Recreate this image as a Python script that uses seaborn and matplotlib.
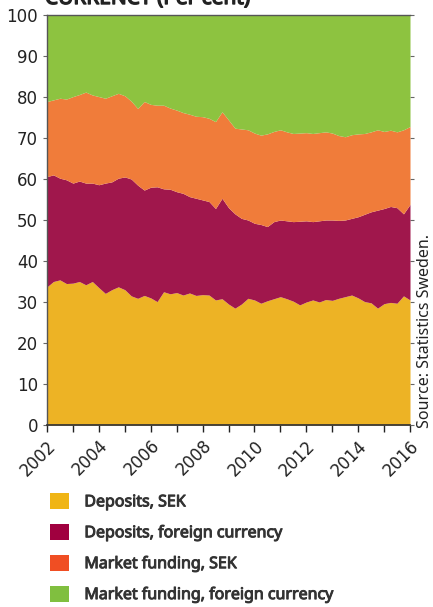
import numpy as np
import pandas as pd
import matplotlib
matplotlib.use("Agg")
import matplotlib.pyplot as plt
import matplotlib.dates as mdates
import matplotlib.patheffects as pe
from matplotlib.patches import Patch
from matplotlib.font_manager import FontProperties
import seaborn as sns

# ---- data (per cent, quarterly, cumulative boundaries of stacked areas) ----
quarters = pd.date_range("2002-01-01", "2016-01-01", freq="QS")

deposits_sek = [33.7, 35.0, 35.4, 34.5, 34.6, 35.0, 34.2, 35.0, 33.5, 32.1, 33.0, 33.7,
                33.0, 31.5, 30.9, 31.6, 31.0, 30.1, 32.5, 32.0, 32.3, 31.7, 32.2, 31.6,
                31.8, 31.7, 30.5, 30.8, 29.5, 28.5, 29.5, 30.9, 30.5, 29.7, 30.3, 30.8,
                31.3, 30.8, 30.2, 29.3, 30.0, 30.5, 30.0, 30.6, 30.4, 30.9, 31.3, 31.7,
                31.0, 30.1, 29.8, 28.5, 29.6, 29.9, 29.7, 31.5, 30.5]

cum_deposits_fx = [60.6, 61.0, 60.2, 59.8, 59.0, 59.5, 59.0, 59.0, 58.6, 59.0, 59.3, 60.2,
                   60.5, 60.0, 58.5, 57.3, 58.0, 58.1, 57.6, 57.5, 56.9, 56.5, 55.7, 55.3,
                   54.9, 54.5, 52.8, 55.3, 53.0, 51.5, 50.4, 50.0, 49.2, 48.9, 48.4, 49.6,
                   50.0, 49.8, 49.6, 49.7, 49.8, 49.6, 49.8, 50.0, 50.0, 49.9, 50.0, 50.4,
                   50.8, 51.4, 52.0, 52.4, 52.8, 53.3, 53.0, 51.5, 53.8]

cum_market_sek = [78.9, 79.3, 79.7, 79.5, 80.1, 80.6, 81.2, 80.5, 80.1, 79.7, 80.3, 80.9,
                  80.3, 79.0, 77.2, 78.9, 78.2, 78.0, 78.0, 77.3, 76.8, 76.2, 75.8, 75.3,
                  75.2, 74.8, 74.0, 76.4, 74.4, 72.4, 72.2, 72.0, 71.2, 70.7, 71.0, 71.6,
                  72.0, 71.5, 71.1, 71.2, 71.3, 71.1, 71.3, 71.5, 71.2, 70.6, 70.3, 70.8,
                  71.0, 71.1, 71.5, 72.0, 71.6, 71.9, 71.5, 72.0, 72.8]

cum_total = [100.0] * len(quarters)

series_labels = ["Deposits, SEK", "Deposits, foreign currency",
                 "Market funding, SEK", "Market funding, foreign currency"]
area_colors = ["#EDB325", "#A0174C", "#F07C3A", "#8DC340"]
legend_colors = ["#F0B515", "#A0003F", "#F04E23", "#80BF3F"]
y_ticks = [0, 10, 20, 30, 40, 50, 60, 70, 80, 90, 100]

# ---- styling ----
sns.set_theme(style="ticks")
plt.rcParams["font.family"] = ["DejaVu Sans"]

fig = plt.figure(figsize=(4.33, 6.07), dpi=100)
ax = fig.add_axes([47 / 433, 1 - 425 / 607, (410 - 47) / 433, (425 - 15) / 607])

df = pd.DataFrame({
    "date": quarters,
    "b0": [0.0] * len(quarters),
    "b1": deposits_sek,
    "b2": cum_deposits_fx,
    "b3": cum_market_sek,
    "b4": cum_total,
})

bounds = ["b0", "b1", "b2", "b3", "b4"]
for i in range(4):
    ax.fill_between(df["date"], df[bounds[i]], df[bounds[i + 1]],
                    color=area_colors[i], linewidth=0)

ax.set_xlim(pd.Timestamp("2002-01-01"), pd.Timestamp("2016-01-01"))
ax.set_ylim(0, 100)
ax.set_yticks(y_ticks)
ax.xaxis.set_major_locator(mdates.YearLocator(2))
ax.xaxis.set_minor_locator(mdates.YearLocator(1))
ax.xaxis.set_major_formatter(mdates.DateFormatter("%Y"))
ax.tick_params(axis="x", which="both", length=5, width=1, color="#222222",
               labelsize=12, labelcolor="#222222")
ax.tick_params(axis="y", length=3, width=0.8, color="#666666",
               labelsize=12, labelcolor="#222222", right=True)
for lbl in ax.get_xticklabels():
    lbl.set_rotation(45)
    lbl.set_ha("right")
    lbl.set_rotation_mode("anchor")
ax.set_xlabel("")
ax.set_ylabel("")
for side in ["left", "top"]:
    ax.spines[side].set_color("#555555")
    ax.spines[side].set_linewidth(1.0)
ax.spines["bottom"].set_color("#333333")
ax.spines["right"].set_visible(False)

fam = ["Noto Sans", "DejaVu Sans"]
cond_bold = FontProperties(family=fam, stretch="extra-condensed", weight="bold", size=11.5)
cond_reg = FontProperties(family=fam, stretch="condensed", size=11.5)
cond_title = FontProperties(family=fam, stretch="condensed", weight="bold", size=15)
bold_fx = [pe.withStroke(linewidth=0.7, foreground="#333333")]

# partially clipped title at the top (cut off in the reference as well)
fig.text(45 / 433, 1 - 4 / 607, "CURRENCY (Per cent)", color="#222222",
         ha="left", va="baseline", fontproperties=cond_title,
         path_effects=[pe.withStroke(linewidth=1.0, foreground="#222222")])

# source note
fig.text(425 / 433, 1 - 331 / 607, "Source: Statistics Sweden.", rotation=90,
         color="#222222", ha="center", va="center", fontproperties=cond_reg)

handles = [Patch(facecolor=c, edgecolor="none") for c in legend_colors]
leg = fig.legend(handles, series_labels, loc="upper left",
                 bbox_to_anchor=(50 / 433, 1 - 493 / 607), frameon=False,
                 handlelength=1.2, handleheight=1.15, handletextpad=0.95,
                 labelspacing=0.85, borderaxespad=0, borderpad=0,
                 prop=cond_bold, labelcolor="#333333")
for t in leg.get_texts():
    t.set_path_effects(bold_fx)

fig.savefig("out.png", dpi=100)
